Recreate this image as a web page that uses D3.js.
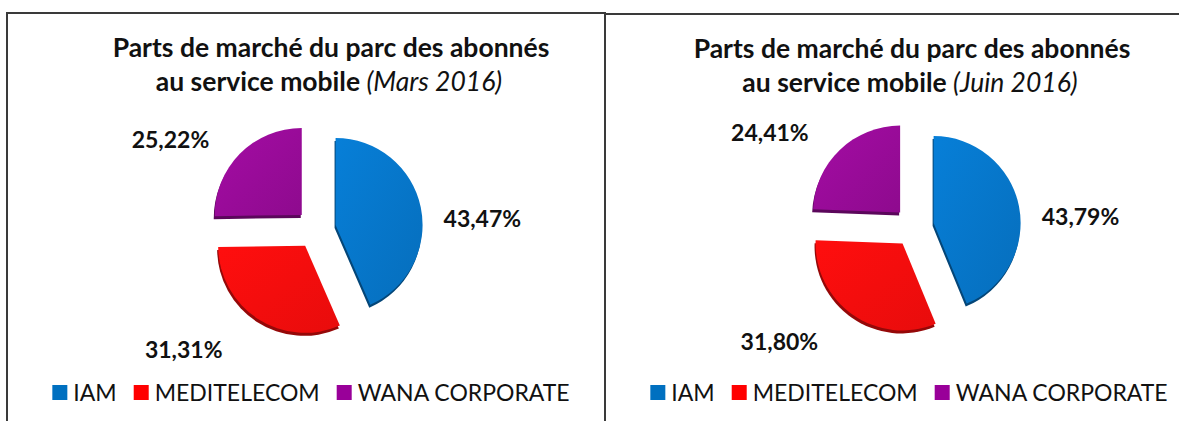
<!DOCTYPE html>
<html>
<head>
<meta charset="utf-8">
<script src="https://cdn.jsdelivr.net/npm/d3@7"></script>
<style>
  body { margin: 0; background: #fff; }
  svg { display: block; font-family: Lato, "Open Sans", sans-serif; }
</style>
</head>
<body>
<div id="chart"></div>
<script>
// data
const operators = ["IAM", "MEDITELECOM", "WANA CORPORATE"];
const periods = ["Mars 2016", "Juin 2016"];
const sharesMars = [43.47, 31.31, 25.22];
const sharesJuin = [43.79, 31.80, 24.41];
const titleLine1 = "Parts de marché du parc des abonnés";
const titleLine2 = "au service mobile ";

const colors = d3.scaleOrdinal().domain(operators).range(["#0674C6", "#F50D0D", "#960B96"]);
const legendColors = d3.scaleOrdinal().domain(operators).range(["#0070C0", "#FF0000", "#990099"]);

const W = 1179, H = 421;
const svg = d3.select("#chart").append("svg").attr("width", W).attr("height", H);

// gradients for a bit of the 3D look
const defs = svg.append("defs");
operators.forEach((op, i) => {
    const c = d3.color(colors(op));
    const g = defs.append("linearGradient").attr("id", "grad" + i)
        .attr("x1", "0%").attr("y1", "0%").attr("x2", "100%").attr("y2", "100%");
    g.append("stop").attr("offset", "0%").attr("stop-color", c.brighter(0.25));
    g.append("stop").attr("offset", "100%").attr("stop-color", c.darker(0.15));
});

const panels = [
    { x: 7, y: 13, w: 598, period: periods[0], values: sharesMars, cy: 229, titleX: 324 },
    { x: 605, y: 14, w: 598, period: periods[1], values: sharesJuin, cy: 227, titleX: 307 }
];

const R = 87, explode = 20;
const pie = d3.pie().sort(null).value(d => d.value);
const arc = d3.arc().innerRadius(0).outerRadius(R);
const fmt = v => d3.format(".2f")(v).replace(".", ",") + "%";
const midAngle = d => (d.startAngle + d.endAngle) / 2;

panels.forEach(p => {
    const g = svg.append("g").attr("transform", `translate(${p.x},${p.y})`);

    // frame (bottom runs off the picture)
    g.append("path")
        .attr("d", `M0,${H} V0 H${p.w} V${H}`)
        .attr("fill", "none").attr("stroke", "#3a3a3a").attr("stroke-width", 2);

    // title
    g.append("text").attr("x", p.titleX).attr("y", 44).attr("text-anchor", "middle")
        .attr("font-size", 26.5).attr("font-weight", "bold").attr("fill", "#111").text(titleLine1);
    const t2 = g.append("text").attr("x", p.titleX - 2).attr("y", 78).attr("text-anchor", "middle")
        .attr("font-size", 26.5).attr("fill", "#111");
    t2.append("tspan").attr("font-weight", "bold").text(titleLine2);
    t2.append("tspan").attr("font-style", "italic").text("(" + p.period + ")");

    // pie
    const data = operators.map((op, i) => ({ op: op, value: p.values[i] }));
    const arcs = pie(data);
    const pc = g.append("g").attr("transform", `translate(309,${p.cy - p.y})`);

    const slices = pc.selectAll("g.slice").data(arcs).enter().append("g")
        .attr("class", "slice")
        .attr("transform", d => {
            const a = midAngle(d);
            return `translate(${Math.sin(a) * explode},${-Math.cos(a) * explode})`;
        });

    // depth edge
    slices.append("path")
        .attr("d", arc)
        .attr("transform", "translate(-1,3)")
        .attr("fill", d => d3.color(colors(d.data.op)).darker(1.4));
    slices.append("path")
        .attr("d", arc)
        .attr("fill", (d, i) => `url(#grad${i})`);

    // labels, pushed outward from the slice direction
    pc.selectAll("text.lbl").data(arcs).enter().append("text")
        .attr("class", "lbl")
        .attr("x", d => {
            const s = Math.sin(midAngle(d));
            return s * 78 + Math.sign(s) * 90;
        })
        .attr("y", d => {
            const c = Math.cos(midAngle(d));
            return -c * Math.abs(c) * 175 - 3;
        })
        .attr("dy", "0.35em")
        .attr("text-anchor", "middle")
        .attr("font-size", 23).attr("font-weight", "bold").attr("fill", "#111")
        .text(d => fmt(d.data.value));

    // legend
    const lg = g.append("g");
    const items = lg.selectAll("g").data(operators).enter().append("g");
    items.append("rect").attr("y", -1).attr("width", 15).attr("height", 15)
        .attr("fill", d => legendColors(d));
    items.append("text").attr("x", 21).attr("y", 15)
        .attr("font-size", 23).attr("fill", "#111").text(d => d);
    // lay items out one after another, then centre the row
    const gap = 17;
    let off = 0;
    items.each(function() {
        d3.select(this).attr("transform", `translate(${off},0)`);
        off += this.getBBox().width + gap;
    });
    lg.attr("transform", `translate(${p.w / 2 + 5 - (off - gap) / 2},${386 - p.y})`);
});
</script>
</body>
</html>
